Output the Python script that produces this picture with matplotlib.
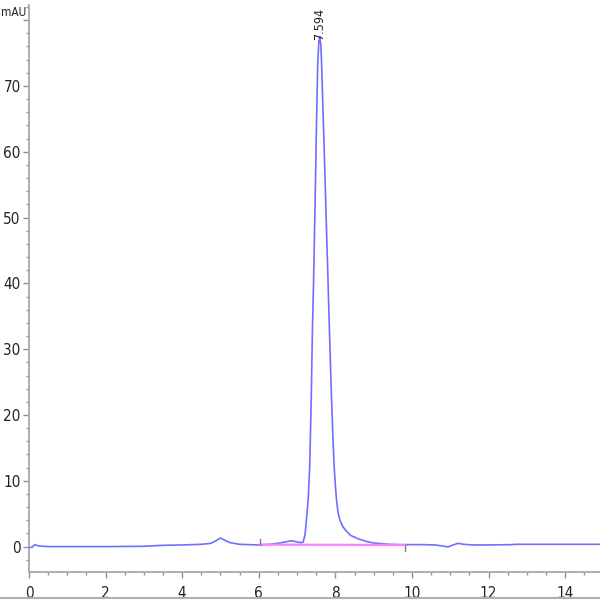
import matplotlib
matplotlib.use("Agg")
import matplotlib.pyplot as plt
from matplotlib.lines import Line2D
from matplotlib.ticker import MultipleLocator

# chromatogram trace (min, mAU)
time_min = [
    0.00, 0.08, 0.15, 0.25, 0.50, 1.00, 2.00, 3.00, 3.50, 4.00,
    4.50, 4.75, 4.90, 5.00, 5.10, 5.25, 5.50, 6.00, 6.30, 6.60,
    6.85, 7.05, 7.10, 7.16, 7.21, 7.25, 7.29, 7.33, 7.37, 7.40,
    7.43, 7.47, 7.51, 7.54, 7.57, 7.594, 7.62, 7.64, 7.70, 7.76,
    7.82, 7.86, 7.90, 7.94, 7.97, 8.00, 8.03, 8.07, 8.12, 8.20,
    8.28, 8.40, 8.59, 8.80, 9.00, 9.40, 9.70, 10.00, 10.30, 10.60,
    10.80, 10.94, 11.05, 11.20, 11.35, 11.60, 12.00, 12.60, 12.70, 14.95,
]
signal_mau = [
    -0.15, -0.10, 0.30, 0.10, 0.00, 0.00, 0.00, 0.05, 0.20, 0.25,
    0.35, 0.50, 0.95, 1.30, 1.00, 0.60, 0.35, 0.25, 0.35, 0.60,
    0.90, 0.65, 0.60, 0.70, 1.90, 4.40, 7.10, 12.2, 22.3, 32.5,
    40.0, 52.0, 65.0, 73.5, 76.8, 77.5, 76.3, 73.5, 62.0, 50.0,
    38.0, 30.0, 22.5, 16.0, 12.0, 9.3, 7.1, 5.2, 4.0, 3.0,
    2.4, 1.7, 1.2, 0.80, 0.55, 0.35, 0.30, 0.30, 0.30, 0.25,
    0.10, -0.05, 0.20, 0.50, 0.35, 0.25, 0.25, 0.30, 0.35, 0.35,
]

peak_rt = 7.594
peak_label_y = 77.0
peak_label = "7.594"

# integration baseline and its start / end markers
baseline_t = [6.02, 9.82]
baseline_y = [0.30, 0.25]
event_t = [6.02, 9.82]
event_lo = [0.3, -0.6]
event_hi = [1.2, 0.2]

x_ticks = [0, 2, 4, 6, 8, 10, 12, 14]
y_ticks = [0, 10, 20, 30, 40, 50, 60, 70, 80]
y_ticklabels = ["0", "10", "20", "30", "40", "50", "60", "70", ""]

plt.rcParams["font.family"] = ["DejaVu Sans"]
plt.rcParams["font.stretch"] = "condensed"

fig = plt.figure(figsize=(6, 6), dpi=100)
ax = fig.add_axes([0.0483, 0.0462, 0.9517, 0.9455])

ax.plot(time_min, signal_mau, color="#7070ff", lw=1.2, zorder=3)
ax.plot(baseline_t, baseline_y, color="#ff80ff", lw=1.6, zorder=4)
for t, lo, hi in zip(event_t, event_lo, event_hi):
    ax.plot([t, t], [lo, hi], color="#808080", lw=1.0, zorder=4)

ax.text(peak_rt, peak_label_y, peak_label, rotation=90,
        ha="center", va="bottom", fontsize=9, color="#222222")

ax.set_xlim(0, 14.91)
ax.set_ylim(-3.9, 82.3)
ax.set_xticks(x_ticks)
ax.set_yticks(y_ticks)
ax.set_yticklabels(y_ticklabels)
ax.xaxis.set_minor_locator(MultipleLocator(0.5))
ax.yaxis.set_minor_locator(MultipleLocator(2))

for side in ("top", "right"):
    ax.spines[side].set_visible(False)
for side in ("left", "bottom"):
    ax.spines[side].set_color("#a8a8a8")
    ax.spines[side].set_linewidth(1.3)

ax.tick_params(which="both", colors="#909090", labelcolor="#222222",
               labelsize=11)
ax.tick_params(axis="y", which="major", length=4, width=1.0, pad=2)
ax.tick_params(axis="y", which="minor", length=2.2, width=1.0)
ax.tick_params(axis="x", which="major", length=4, width=1.0, pad=6)
ax.tick_params(axis="x", which="minor", length=2.5, width=1.0)

ax.text(-0.004, 81.2, "mAU", transform=ax.get_yaxis_transform(),
        ha="right", va="center", fontsize=8.5, color="#222222")
ax.text(14.6, -0.048, "min", transform=ax.get_xaxis_transform(),
        ha="left", va="top", fontsize=11, color="#222222", clip_on=False)

fig.add_artist(Line2D([0, 1], [0.003, 0.003], transform=fig.transFigure,
                      color="#b0b0b0", lw=1.5))

fig.savefig("out.png", dpi=100, facecolor="white")
